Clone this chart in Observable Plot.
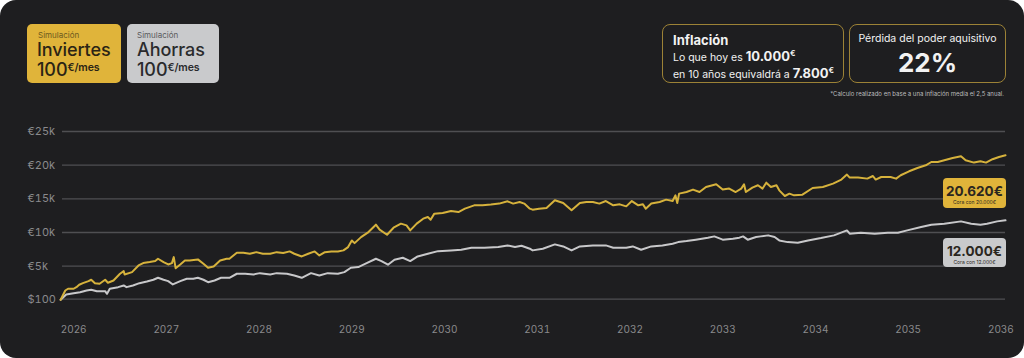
<!DOCTYPE html>
<html>
<head>
<meta charset="utf-8">
<script src="https://cdn.jsdelivr.net/npm/d3@7"></script>
<script src="https://cdn.jsdelivr.net/npm/@observablehq/plot@0.6"></script>
<style>
  html, body { margin: 0; padding: 0; background: #ffffff; }
  #panel { position: relative; width: 1024px; height: 358px; background: #1e1e20; border-radius: 16px; overflow: hidden; font-family: Inter, "Noto Sans", sans-serif; }
  #chart { position: absolute; left: 0; top: 110px; }
  .card { position: absolute; box-sizing: border-box; border-radius: 5px; }
  .sim { font-size: 8px; line-height: 8px; }
  .big { font-size: 18px; font-weight: 500; line-height: 18px; letter-spacing: -0.1px; }
  .big sup { font-size: 10.5px; font-weight: 600; vertical-align: 5px; }
  .ocard { position: absolute; box-sizing: border-box; border: 1px solid #9c8236; border-radius: 8px; color: #f2f2f2; }
  .endlab { position: absolute; box-sizing: border-box; border-radius: 4px; text-align: center; color: #2a2620; }
  .endlab .v { font-size: 13.5px; font-weight: 700; line-height: 14px; margin-top: 6px; }
  .endlab .s { font-size: 5px; line-height: 6px; margin-top: 1px; }
</style>
</head>
<body>
<div id="panel">
  <div class="card" style="left:27px;top:24px;width:94px;height:59px;background:#e0b43a;color:#2b2415;">
    <div class="sim" style="position:absolute;left:11px;top:7px;color:#6e5a1f;">Simulación</div>
    <div class="big" style="position:absolute;left:10px;top:17px;">Inviertes</div>
    <div class="big" style="position:absolute;left:10px;top:35px;">100<sup>€/mes</sup></div>
  </div>
  <div class="card" style="left:127px;top:24px;width:92px;height:59px;background:#c9cacc;color:#2a2a2c;">
    <div class="sim" style="position:absolute;left:10px;top:7px;color:#5a5a5c;">Simulación</div>
    <div class="big" style="position:absolute;left:10px;top:17px;">Ahorras</div>
    <div class="big" style="position:absolute;left:10px;top:35px;">100<sup>€/mes</sup></div>
  </div>

  <div class="ocard" style="left:662px;top:24px;width:182px;height:59px;">
    <div style="position:absolute;left:10px;top:7px;font-size:13px;font-weight:700;">Inflación</div>
    <div style="position:absolute;left:10px;top:23px;font-size:10.5px;white-space:nowrap;">Lo que hoy es <b style="font-size:13px;">10.000<sup style="font-size:8px;">€</sup></b></div>
    <div style="position:absolute;left:10px;top:40px;font-size:10.5px;white-space:nowrap;">en 10 años equivaldrá a <b style="font-size:13px;">7.800<sup style="font-size:8px;">€</sup></b></div>
  </div>
  <div class="ocard" style="left:849px;top:24px;width:157px;height:59px;text-align:center;">
    <div style="position:absolute;left:0;right:0;top:7px;font-size:10.5px;">Pérdida del poder aquisitivo</div>
    <div style="position:absolute;left:0;right:0;top:22px;font-size:26px;font-weight:700;">22%</div>
  </div>
  <div style="position:absolute;right:20px;top:90px;font-size:6px;color:#bdbdbd;">*Calculo realizado en base a una inflación media el 2,5 anual.</div>

  <div id="chart"></div>

  <div class="endlab" style="left:943px;top:178px;width:63px;height:30px;background:#e0b43a;">
    <div class="v" id="goldEnd"></div><div class="s" id="goldSub"></div>
  </div>
  <div class="endlab" style="left:943px;top:238px;width:63px;height:29px;background:#c9cacc;">
    <div class="v" id="grayEnd"></div><div class="s" id="graySub"></div>
  </div>
</div>
<script>
// ---- data ----
const goldYears = [2025.86,2025.91,2025.94,2026.00,2026.03,2026.06,2026.10,2026.16,2026.19,2026.23,2026.28,2026.34,2026.37,2026.43,2026.50,2026.54,2026.55,2026.63,2026.70,2026.75,2026.82,2026.88,2026.91,2026.97,2027.02,2027.06,2027.08,2027.10,2027.15,2027.20,2027.25,2027.34,2027.40,2027.45,2027.51,2027.58,2027.65,2027.68,2027.76,2027.83,2027.90,2027.97,2028.04,2028.12,2028.19,2028.26,2028.33,2028.38,
  2028.46,2028.53,2028.60,2028.65,2028.71,2028.78,2028.85,2028.91,2028.96,2029.00,2029.03,2029.10,2029.18,2029.26,2029.30,2029.38,2029.45,2029.53,2029.59,2029.63,2029.70,2029.77,2029.82,2029.85,2029.89,2029.98,2030.07,2030.15,2030.22,2030.32,2030.41,2030.50,2030.59,2030.68,2030.74,2030.81,2030.86,
  2030.92,2030.95,2031.02,2031.10,2031.19,2031.28,2031.37,2031.46,2031.53,2031.60,2031.67,2031.74,2031.82,2031.89,2031.96,2032.02,2032.09,2032.14,2032.17,2032.23,2032.32,2032.39,2032.46,2032.49,2032.51,2032.53,2032.61,2032.68,2032.75,2032.82,2032.93,2033.00,2033.07,2033.14,2033.20,2033.23,2033.25,2033.32,2033.38,2033.43,2033.47,
  2033.52,2033.58,2033.61,2033.67,2033.72,2033.77,2033.86,2033.97,2034.08,2034.19,2034.28,2034.34,2034.37,2034.46,2034.56,2034.62,2034.65,2034.71,2034.81,2034.87,2034.92,2035.01,2035.10,2035.19,2035.25,2035.32,2035.39,2035.48,2035.57,2035.62,2035.71,2035.78,2035.84,2035.91,2035.98,2036.05];
const goldValues = [0,1380,1640,1640,1880,2230,2470,2770,2980,2470,2380,2980,2530,2870,3870,4260,3770,4110,5100,5450,5600,5750,6100,5600,5250,5450,6340,4700,5250,5850,5850,6000,5360,4760,4950,5850,6100,6100,6990,6990,6840,7080,6840,6840,7080,6940,7190,6840,
  6440,6840,7190,6590,7080,7190,7190,7340,7830,8820,8420,9310,10060,11160,10420,9670,10710,11310,11060,10310,11310,12050,12290,11900,12800,12890,13180,13040,13540,14030,14030,14140,14290,14630,14290,14520,14290,
  13540,13390,13540,13630,14780,14370,13290,14370,14520,14520,14290,14670,14030,14180,13880,14670,14030,14180,13540,14290,14520,14880,14670,15520,14370,15770,16010,16370,16010,16750,17160,16370,16520,16010,16520,17160,16010,16670,17010,16520,17400,
  16750,17010,16260,15420,15770,15520,15620,16610,16750,17260,17860,18600,18150,18150,18000,18390,17860,18240,18240,18000,18500,19090,19580,19980,20470,20470,20730,21070,21320,20730,20380,20580,20380,20880,21220,21470];

const grayYears = [2025.86,2025.92,2026.00,2026.07,2026.14,2026.19,2026.25,2026.34,2026.36,2026.39,2026.48,2026.54,2026.57,2026.64,2026.71,2026.79,2026.86,2026.91,2026.97,2027.02,2027.07,2027.15,2027.22,2027.29,2027.34,2027.40,2027.45,2027.52,2027.59,2027.68,2027.76,2027.85,2027.94,2028.01,2028.12,2028.19,2028.30,2028.38,
  2028.46,2028.56,2028.65,2028.74,2028.85,2028.92,2028.99,2029.07,2029.16,2029.26,2029.32,2029.39,2029.46,2029.55,2029.63,2029.71,2029.82,2029.93,2030.07,2030.18,2030.29,2030.43,2030.58,2030.68,2030.76,2030.83,2030.92,
  2030.95,2031.06,2031.19,2031.28,2031.37,2031.46,2031.60,2031.74,2031.82,2031.96,2032.03,2032.12,2032.23,2032.35,2032.46,2032.52,2032.61,2032.71,2032.84,2032.91,2033.00,2033.11,2033.18,2033.22,2033.27,2033.36,2033.41,2033.49,
  2033.56,2033.61,2033.70,2033.81,2033.92,2034.06,2034.20,2034.34,2034.37,2034.49,2034.64,2034.78,2034.89,2034.99,2035.14,2035.25,2035.39,2035.57,2035.68,2035.78,2035.85,2035.96,2036.05];
const grayValues = [0,790,980,1130,1380,1490,1280,1280,890,1640,1880,2130,1880,2130,2470,2720,2980,3270,2980,2770,2280,2770,3120,3120,3270,2980,2620,2870,3270,3270,3870,3870,3770,3960,3770,3960,3870,3620,
  3270,3960,3620,3960,3870,4110,4760,4860,5450,6100,5750,5210,5950,6250,5750,6440,6840,7230,7340,7440,7740,7740,7830,8080,7830,8030,7590,
  7340,7590,8230,7930,7340,7930,8080,8080,7740,7740,7930,7440,7930,8080,8330,8570,8720,8930,9230,9420,8930,9080,9230,9420,8930,9320,9420,9570,
  9320,8820,8570,8480,8820,9170,9570,10310,9820,9970,9820,9970,9970,10310,10800,11160,11310,11650,11310,11160,11310,11650,11800];

const yearTicks = [2026,2027,2028,2029,2030,2031,2032,2033,2034,2035,2036];
const yTickValues = [100,5000,10000,15000,20000,25000];
const yTickLabels = ["$100","€5k","€10k","€15k","€20k","€25k"];

const endLabels = [
  {id: "gold", value: "20.620€", sub: "Cora con 20.000€"},
  {id: "gray", value: "12.000€", sub: "Cora con 12.000€"}
];

// ---- build ----
const gold = goldYears.map((t, i) => ({t, v: goldValues[i]}));
const gray = grayYears.map((t, i) => ({t, v: grayValues[i]}));

const chart = Plot.plot({
  width: 1024,
  height: 248,
  marginTop: 21,
  marginBottom: 58.7,
  marginLeft: 62,
  marginRight: 19,
  x: {domain: [2025.88, 2036.05]},
  y: {domain: [0, 25000]},
  style: {background: "transparent", color: "#8a8a8c", fontFamily: "Inter, 'Noto Sans', sans-serif", fontSize: "10px", overflow: "visible"},
  marks: [
    Plot.ruleY(yTickValues, {stroke: "#4f4f52", strokeWidth: 1.3}),
    Plot.axisY({ticks: yTickValues, tickFormat: d => yTickLabels[yTickValues.indexOf(d)], tickSize: 0, tickPadding: 35, textAnchor: "start", fontSize: 11, fill: "#8a8a8c", label: null}),
    Plot.axisX({ticks: yearTicks, tickFormat: d => String(d), tickSize: 0, tickPadding: 26, fontSize: 10, fill: "#8a8a8c", label: null}),
    Plot.line(gray, {x: "t", y: "v", stroke: "#c8c8ca", strokeWidth: 2, curve: "linear"}),
    Plot.line(gold, {x: "t", y: "v", stroke: "#d6b23c", strokeWidth: 2, curve: "linear"})
  ]
});
document.getElementById("chart").appendChild(chart);

for (const e of endLabels) {
  document.getElementById(e.id + "End").textContent = e.value;
  document.getElementById(e.id + "Sub").textContent = e.sub;
}
</script>
</body>
</html>
